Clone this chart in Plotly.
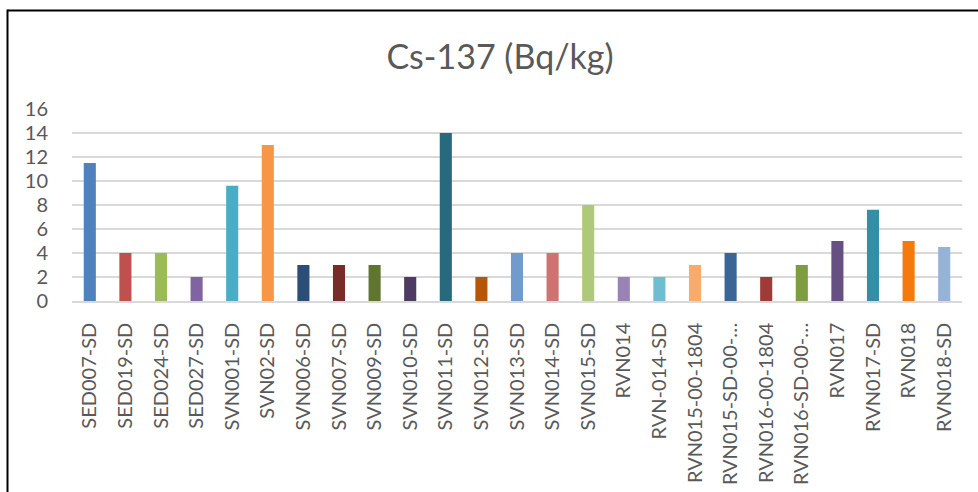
import plotly.graph_objects as go

# Sample identifiers along the x axis
samples = [
    "SED007-SD", "SED019-SD", "SED024-SD", "SED027-SD", "SVN001-SD",
    "SVN02-SD", "SVN006-SD", "SVN007-SD", "SVN009-SD", "SVN010-SD",
    "SVN011-SD", "SVN012-SD", "SVN013-SD", "SVN014-SD", "SVN015-SD",
    "RVN014", "RVN-014-SD", "RVN015-00-1804", "RVN015-SD-00-…", "RVN016-00-1804",
    "RVN016-SD-00-…", "RVN017", "RVN017-SD", "RVN018", "RVN018-SD",
]

# Cs-137 activity concentration, Bq/kg
cs137 = [
    11.5, 4, 4, 2, 9.6,
    13, 3, 3, 3, 2,
    14, 2, 4, 4, 8,
    2, 2, 3, 4, 2,
    3, 5, 7.6, 5, 4.5,
]

# Office-style varied point colours
bar_colors = [
    "#4F81BD", "#C0504D", "#9BBB59", "#8064A2", "#4BACC6",
    "#F79646", "#2C4D75", "#772C2A", "#5F7530", "#4D3B62",
    "#276A7C", "#B65708", "#729ACA", "#CD7371", "#AFC97A",
    "#9983B5", "#6FBDD1", "#F9AB6B", "#3A6595", "#9E3B38",
    "#7E9C40", "#664F82", "#358EA5", "#F47A0E", "#95B3D7",
]

y_ticks = [0, 2, 4, 6, 8, 10, 12, 14, 16]

W, H = 978, 492
L, R, T, B = 72, 16, 109, 191
pw, ph = W - L - R, H - T - B

FONT = "Lato, 'Open Sans', sans-serif"
GREY = "#595959"
CLEAR = "rgba(0,0,0,0)"

fig = go.Figure(
    go.Bar(
        x=samples,
        y=cs137,
        marker=dict(color=bar_colors, line=dict(width=0)),
        hoverinfo="x+y",
    )
)

fig.update_layout(
    width=W,
    height=H,
    margin=dict(l=L, r=R, t=T, b=B, autoexpand=False),
    paper_bgcolor="white",
    plot_bgcolor="white",
    showlegend=False,
    bargap=0.66,
    font=dict(family=FONT, color=GREY),
    title=dict(
        text="Cs-137 (Bq/kg)",
        font=dict(family=FONT, size=34, color=GREY),
        x=500 / W,
        xanchor="center",
        xref="container",
        y=1 - 57 / H,
        yanchor="middle",
        yref="container",
    ),
    xaxis=dict(
        type="category",
        tickangle=-90,
        tickfont=dict(size=20, color=GREY),
        showgrid=False,
        showline=True,
        linecolor="#D9D9D9",
        linewidth=1.5,
        ticks="outside",
        ticklen=12,
        tickcolor=CLEAR,
        automargin=False,
        fixedrange=True,
    ),
    yaxis=dict(
        range=[0, 16],
        tickvals=y_ticks,
        tickfont=dict(size=20, color=GREY),
        showgrid=True,
        gridcolor="#D9D9D9",
        gridwidth=1.5,
        zeroline=False,
        showline=False,
        ticks="outside",
        ticklen=19,
        tickcolor=CLEAR,
        automargin=False,
        fixedrange=True,
    ),
)

# Black frame on the top and left of the chart box
def px_to_paper_x(px):
    return (px - L) / pw

def px_to_paper_y(py):
    return (H - B - py) / ph

frame = dict(color="black", width=2)
fig.add_shape(type="line", xref="paper", yref="paper",
              x0=px_to_paper_x(7.5), x1=px_to_paper_x(W + 5),
              y0=px_to_paper_y(10.5), y1=px_to_paper_y(10.5), line=frame)
fig.add_shape(type="line", xref="paper", yref="paper",
              x0=px_to_paper_x(7.5), x1=px_to_paper_x(7.5),
              y0=px_to_paper_y(9.5), y1=px_to_paper_y(H + 5), line=frame)

fig.write_html("out.html")
